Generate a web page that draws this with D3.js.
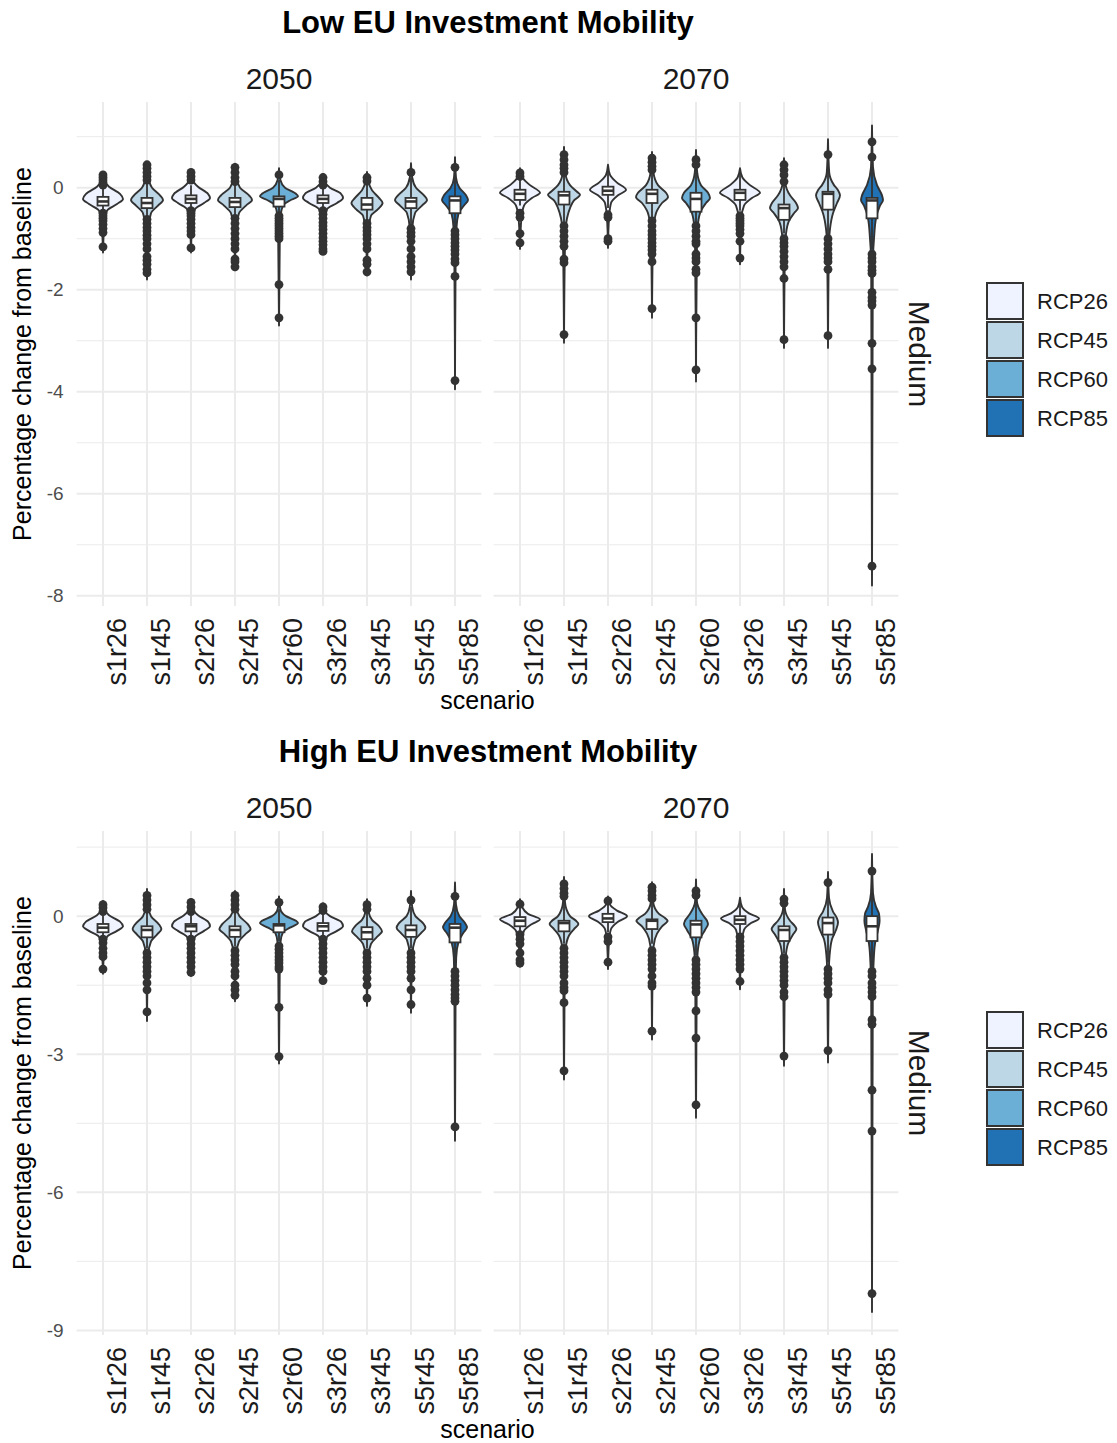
<!DOCTYPE html>
<html>
<head>
<meta charset="utf-8">
<script src="https://cdn.jsdelivr.net/npm/d3@7"></script>
<style>
body { margin: 0; background: #fff; }
text { font-family: "Liberation Sans", Arial, sans-serif; }
</style>
</head>
<body>
<div id="chart"></div>
<script>
var scenarios = ["s1r26", "s1r45", "s2r26", "s2r45", "s2r60", "s3r26", "s3r45", "s5r45", "s5r85"];
var rcpLevels = ["RCP26", "RCP45", "RCP60", "RCP85"];
var years = ["2050", "2070"];

var lowTicks = [0, -2, -4, -6, -8];
var lowMinor = [1, -1, -3, -5, -7];
var highTicks = [0, -3, -6, -9];
var highMinor = [1.5, -1.5, -4.5, -7.5];

// violin outline: [value, relative density]
var lowShape2050 = [
  [[0.3,0],[0.15,0.07],[0.02,0.3],[-0.12,0.85],[-0.22,1.0],[-0.32,0.7],[-0.45,0.2],[-0.7,0.07],[-1.27,0]],
  [[0.5,0],[0.2,0.07],[0,0.25],[-0.15,0.65],[-0.24,0.8],[-0.35,0.55],[-0.5,0.2],[-0.8,0.07],[-1.8,0]],
  [[0.32,0],[0.15,0.08],[0.02,0.35],[-0.12,0.85],[-0.2,0.95],[-0.3,0.65],[-0.42,0.2],[-0.7,0.06],[-1.27,0]],
  [[0.47,0],[0.2,0.07],[0,0.25],[-0.15,0.7],[-0.24,0.85],[-0.35,0.55],[-0.5,0.2],[-0.8,0.06],[-1.62,0]],
  [[0.38,0],[0.15,0.07],[0,0.3],[-0.12,0.85],[-0.17,0.95],[-0.25,0.55],[-0.35,0.2],[-0.55,0.08],[-1.0,0.04],[-2.7,0]],
  [[0.27,0],[0.12,0.08],[0,0.35],[-0.12,0.9],[-0.2,1.0],[-0.3,0.7],[-0.42,0.2],[-0.7,0.06],[-1.3,0]],
  [[0.31,0],[0.1,0.08],[-0.05,0.25],[-0.2,0.6],[-0.3,0.78],[-0.42,0.55],[-0.55,0.2],[-0.75,0.1],[-1.0,0.05],[-1.72,0]],
  [[0.48,0],[0.2,0.06],[0,0.25],[-0.15,0.65],[-0.24,0.8],[-0.35,0.55],[-0.5,0.2],[-0.8,0.06],[-1.8,0]],
  [[0.6,0],[0.2,0.05],[0,0.22],[-0.15,0.55],[-0.24,0.65],[-0.35,0.45],[-0.5,0.18],[-0.8,0.07],[-1.5,0.03],[-3.95,0]]
];
var lowShape2070 = [
  [[0.38,0],[0.2,0.12],[0.05,0.5],[-0.1,1.0],[-0.2,0.6],[-0.35,0.2],[-0.6,0.07],[-1.2,0]],
  [[0.8,0],[0.3,0.06],[0.05,0.3],[-0.08,0.65],[-0.14,0.8],[-0.25,0.5],[-0.4,0.3],[-0.6,0.15],[-0.9,0.06],[-3.04,0]],
  [[0.45,0],[0.25,0.1],[0.1,0.45],[-0.04,0.9],[-0.15,0.5],[-0.3,0.15],[-0.6,0.05],[-1.18,0]],
  [[0.7,0],[0.3,0.07],[0.05,0.3],[-0.1,0.7],[-0.18,0.8],[-0.3,0.5],[-0.45,0.25],[-0.7,0.1],[-1.0,0.05],[-2.55,0]],
  [[0.74,0],[0.3,0.06],[0.05,0.25],[-0.1,0.6],[-0.2,0.7],[-0.3,0.5],[-0.45,0.25],[-0.7,0.1],[-1.0,0.05],[-3.8,0]],
  [[0.38,0],[0.2,0.12],[0.05,0.5],[-0.1,1.0],[-0.2,0.6],[-0.35,0.2],[-0.6,0.07],[-1.5,0]],
  [[0.58,0],[0.1,0.06],[-0.15,0.3],[-0.3,0.6],[-0.4,0.7],[-0.5,0.5],[-0.65,0.25],[-0.9,0.1],[-1.2,0.05],[-3.14,0]],
  [[0.95,0],[0.3,0.06],[0.05,0.3],[-0.05,0.5],[-0.15,0.6],[-0.3,0.45],[-0.5,0.25],[-0.8,0.1],[-1.1,0.05],[-3.14,0]],
  [[1.22,0],[0.4,0.05],[0.05,0.25],[-0.15,0.5],[-0.24,0.55],[-0.35,0.4],[-0.6,0.2],[-1.0,0.1],[-1.5,0.04],[-7.8,0]]
];
var highShape2050 = [
  [[0.33,0],[0.15,0.08],[0.02,0.3],[-0.12,0.85],[-0.22,1.0],[-0.32,0.7],[-0.45,0.2],[-0.7,0.07],[-1.25,0]],
  [[0.59,0],[0.2,0.06],[0,0.2],[-0.18,0.6],[-0.28,0.72],[-0.4,0.5],[-0.55,0.2],[-0.85,0.06],[-2.28,0]],
  [[0.37,0],[0.15,0.08],[0.02,0.35],[-0.12,0.85],[-0.22,0.95],[-0.32,0.65],[-0.45,0.2],[-0.7,0.06],[-1.3,0]],
  [[0.55,0],[0.2,0.06],[0,0.22],[-0.18,0.65],[-0.28,0.78],[-0.4,0.5],[-0.55,0.2],[-0.85,0.06],[-1.85,0]],
  [[0.43,0],[0.15,0.07],[0,0.35],[-0.1,0.85],[-0.15,0.95],[-0.25,0.55],[-0.35,0.2],[-0.55,0.08],[-1.0,0.04],[-3.2,0]],
  [[0.28,0],[0.12,0.08],[0,0.35],[-0.12,0.9],[-0.22,1.0],[-0.32,0.7],[-0.45,0.2],[-0.7,0.06],[-1.45,0]],
  [[0.37,0],[0.1,0.07],[-0.08,0.25],[-0.22,0.6],[-0.33,0.75],[-0.45,0.5],[-0.6,0.2],[-0.85,0.08],[-1.95,0]],
  [[0.55,0],[0.2,0.06],[0,0.22],[-0.15,0.6],[-0.25,0.72],[-0.37,0.5],[-0.52,0.2],[-0.85,0.06],[-2.1,0]],
  [[0.73,0],[0.25,0.05],[0,0.22],[-0.15,0.5],[-0.24,0.6],[-0.36,0.42],[-0.55,0.18],[-0.9,0.06],[-1.6,0.03],[-4.88,0]]
];
var highShape2070 = [
  [[0.37,0],[0.2,0.1],[0.05,0.4],[-0.07,1.0],[-0.17,0.6],[-0.32,0.2],[-0.6,0.07],[-1.1,0]],
  [[0.85,0],[0.3,0.05],[0,0.3],[-0.1,0.6],[-0.17,0.72],[-0.28,0.5],[-0.42,0.25],[-0.7,0.08],[-1.0,0.04],[-3.55,0]],
  [[0.43,0],[0.25,0.1],[0.12,0.45],[0,0.95],[-0.12,0.5],[-0.28,0.15],[-0.55,0.05],[-1.15,0]],
  [[0.74,0],[0.3,0.06],[0.05,0.35],[-0.04,0.65],[-0.1,0.78],[-0.22,0.5],[-0.38,0.25],[-0.65,0.08],[-1.0,0.04],[-2.68,0]],
  [[0.8,0],[0.3,0.05],[0.05,0.3],[-0.1,0.55],[-0.17,0.6],[-0.3,0.45],[-0.5,0.2],[-0.8,0.08],[-1.2,0.04],[-4.38,0]],
  [[0.4,0],[0.2,0.1],[0.06,0.45],[-0.05,0.95],[-0.15,0.55],[-0.3,0.2],[-0.6,0.07],[-1.59,0]],
  [[0.59,0],[0.15,0.05],[-0.1,0.3],[-0.22,0.55],[-0.28,0.62],[-0.4,0.45],[-0.6,0.2],[-0.9,0.08],[-1.3,0.04],[-3.25,0]],
  [[0.96,0],[0.4,0.05],[0.1,0.25],[-0.05,0.45],[-0.14,0.5],[-0.3,0.4],[-0.5,0.2],[-0.85,0.08],[-1.2,0.04],[-3.18,0]],
  [[1.35,0],[0.5,0.05],[0.2,0.2],[0.05,0.35],[-0.1,0.38],[-0.3,0.3],[-0.6,0.15],[-1.0,0.08],[-1.6,0.04],[-8.6,0]]
];

// boxplot: [lower whisker, q1, median, q3, upper whisker]
var lowBox2050 = [
  [-0.45,-0.35,-0.27,-0.18,0.02], [-0.6,-0.4,-0.3,-0.2,0.1], [-0.42,-0.3,-0.22,-0.15,0.05],
  [-0.55,-0.38,-0.28,-0.2,0.08], [-0.52,-0.37,-0.22,-0.17,0.15], [-0.42,-0.3,-0.22,-0.15,0.02],
  [-0.65,-0.43,-0.33,-0.2,0.1], [-0.75,-0.4,-0.27,-0.2,0.2], [-0.8,-0.5,-0.25,-0.17,0.3]
];
var lowBox2070 = [
  [-0.35,-0.24,-0.12,-0.04,0.2], [-0.7,-0.33,-0.15,-0.08,0.25], [-0.4,-0.14,-0.06,0.02,0.4],
  [-0.6,-0.3,-0.12,-0.04,0.3], [-0.7,-0.47,-0.22,-0.1,0.35], [-0.45,-0.24,-0.1,-0.04,0.3],
  [-0.9,-0.63,-0.4,-0.33,0.05], [-0.95,-0.43,-0.12,-0.08,0.45], [-1.2,-0.6,-0.25,-0.2,0.5]
];
var highBox2050 = [
  [-0.45,-0.35,-0.25,-0.17,0.02], [-0.7,-0.46,-0.3,-0.22,0.08], [-0.45,-0.33,-0.22,-0.17,0.02],
  [-0.65,-0.45,-0.3,-0.22,0.08], [-0.55,-0.35,-0.2,-0.17,0.15], [-0.45,-0.32,-0.22,-0.15,0.05],
  [-0.7,-0.5,-0.35,-0.24,0.1], [-0.7,-0.45,-0.3,-0.2,0.2], [-1.0,-0.57,-0.25,-0.17,0.3]
];
var highBox2070 = [
  [-0.35,-0.22,-0.1,-0.02,0.2], [-0.6,-0.33,-0.15,-0.1,0.3], [-0.35,-0.13,-0.05,0.05,0.3],
  [-0.6,-0.28,-0.1,-0.07,0.3], [-0.85,-0.46,-0.18,-0.1,0.4], [-0.4,-0.17,-0.08,0,0.3],
  [-0.8,-0.54,-0.3,-0.22,0.2], [-1.0,-0.4,-0.15,-0.03,0.5], [-1.1,-0.54,-0.22,0,0.6]
];

var lowOut2050 = [
  [0.25,0.2,0.15,0.1,0.05,-0.5,-0.55,-0.6,-0.65,-0.72,-0.8,-0.88,-1.16],
  [0.45,0.38,0.3,0.22,0.15,-0.62,-0.7,-0.78,-0.85,-0.93,-1.0,-1.1,-1.2,-1.35,-1.42,-1.5,-1.6,-1.67],
  [0.3,0.22,0.15,-0.45,-0.5,-0.55,-0.62,-0.7,-0.78,-0.85,-0.92,-1.18],
  [0.4,0.3,0.2,0.12,-0.6,-0.7,-0.8,-0.9,-1.0,-1.1,-1.2,-1.4,-1.45,-1.55],
  [0.25,-0.55,-0.6,-0.65,-0.7,-0.75,-0.8,-0.85,-0.9,-0.95,-1.0,-1.9,-2.55],
  [0.2,0.12,0.05,-0.45,-0.52,-0.6,-0.68,-0.75,-0.82,-0.9,-0.98,-1.05,-1.12,-1.2,-1.25],
  [0.2,0.13,-0.7,-0.78,-0.85,-0.92,-1.0,-1.1,-1.2,-1.42,-1.5,-1.65],
  [0.3,-0.8,-0.88,-0.95,-1.05,-1.2,-1.35,-1.45,-1.55,-1.65],
  [0.4,-0.85,-0.92,-1.0,-1.08,-1.15,-1.22,-1.3,-1.4,-1.47,-1.74,-3.78]
];
var lowOut2070 = [
  [0.29,0.22,-0.5,-0.58,-0.9,-1.08],
  [0.65,0.55,0.45,0.38,0.3,-0.75,-0.85,-0.95,-1.05,-1.15,-1.4,-1.47,-2.88],
  [-0.53,-0.58,-1.0,-1.05],
  [0.58,0.5,0.42,0.35,-0.65,-0.75,-0.85,-0.92,-1.0,-1.08,-1.15,-1.22,-1.3,-1.45,-2.37],
  [0.55,0.45,-0.75,-0.85,-0.95,-1.05,-1.1,-1.3,-1.38,-1.45,-1.6,-1.67,-2.55,-3.57],
  [-0.55,-0.6,-0.65,-0.7,-0.75,-0.82,-0.9,-1.05,-1.38],
  [0.45,0.35,0.25,0.12,-1.0,-1.08,-1.15,-1.25,-1.35,-1.45,-1.55,-1.78,-2.98],
  [0.65,-1.0,-1.1,-1.2,-1.3,-1.38,-1.45,-1.6,-2.9],
  [0.9,0.6,-1.3,-1.38,-1.45,-1.55,-1.62,-1.68,-2.05,-2.15,-2.22,-2.3,-3.05,-3.55,-7.42]
];
var highOut2050 = [
  [0.25,0.18,0.1,-0.5,-0.58,-0.7,-0.8,-0.88,-1.15],
  [0.45,0.35,0.25,0.15,-0.8,-0.9,-1.0,-1.1,-1.2,-1.3,-1.45,-1.6,-2.08],
  [0.3,0.2,0.1,-0.5,-0.6,-0.7,-0.8,-0.9,-1.0,-1.1,-1.22],
  [0.45,0.35,0.25,0.15,-0.75,-0.85,-0.95,-1.05,-1.2,-1.3,-1.5,-1.6,-1.72],
  [0.3,-0.65,-0.72,-0.8,-0.88,-0.95,-1.02,-1.1,-1.15,-1.98,-3.05],
  [0.2,0.12,-0.5,-0.6,-0.7,-0.8,-0.9,-1.0,-1.1,-1.2,-1.4],
  [0.25,0.15,-0.8,-0.9,-1.0,-1.1,-1.2,-1.35,-1.5,-1.78],
  [0.35,-0.8,-0.9,-1.0,-1.1,-1.2,-1.35,-1.6,-1.92],
  [0.43,-1.2,-1.3,-1.4,-1.5,-1.6,-1.7,-1.78,-1.85,-4.58]
];
var highOut2070 = [
  [0.26,-0.4,-0.5,-0.6,-0.8,-0.95,-1.02],
  [0.7,0.6,0.5,0.43,-0.7,-0.8,-0.9,-1.0,-1.1,-1.2,-1.3,-1.45,-1.55,-1.62,-1.88,-3.36],
  [0.33,-0.45,-0.55,-1.0],
  [0.63,0.55,0.45,0.38,-0.75,-0.85,-0.95,-1.05,-1.15,-1.3,-1.45,-1.52,-2.5],
  [0.55,0.45,-0.95,-1.05,-1.15,-1.25,-1.35,-1.45,-1.55,-1.65,-2.06,-2.65,-4.1],
  [-0.45,-0.55,-0.65,-0.75,-0.85,-0.95,-1.05,-1.15,-1.42],
  [0.37,0.28,-0.9,-1.0,-1.1,-1.2,-1.3,-1.4,-1.5,-1.65,-1.75,-3.04],
  [0.73,-1.15,-1.25,-1.35,-1.45,-1.6,-1.7,-2.92],
  [0.98,-1.2,-1.3,-1.45,-1.55,-1.65,-1.75,-2.25,-2.35,-3.78,-4.67,-8.2]
];

var fill = d3.scaleOrdinal().domain(rcpLevels).range(["#EFF3FF", "#BDD7E7", "#6BAED6", "#2171B5"]);
var halfWidth = d3.scaleLinear().domain([0, 1]).range([0, 20]);
var ink = "#333333";

var svg = d3.select("#chart").append("svg")
  .attr("width", 1117).attr("height", 1443)
  .style("background", "#fff");

function rcpOf(s) { return "RCP" + s.slice(3); }

function drawPlot(top, title, yDomain, ticks, minor, shapes, boxes, outs) {
  var g = svg.append("g").attr("transform", "translate(0," + top + ")");
  var y = d3.scaleLinear().domain(yDomain).range([606, 102]);
  var panelX = [[76.6, 481.4], [493.6, 898.4]];

  g.append("text")
    .attr("x", 488).attr("y", 33)
    .attr("text-anchor", "middle")
    .style("font-weight", "bold").style("font-size", "31px")
    .text(title);

  panelX.forEach(function(px, p) {
    var x = d3.scalePoint().domain(scenarios).range(px).padding(0.6);
    var pg = g.append("g");

    // grid
    pg.selectAll(".minor").data(minor).enter().append("line")
      .attr("x1", px[0]).attr("x2", px[1])
      .attr("y1", function(d) { return y(d); }).attr("y2", function(d) { return y(d); })
      .attr("stroke", "#ebebeb").attr("stroke-width", 1);
    pg.selectAll(".major").data(ticks).enter().append("line")
      .attr("x1", px[0]).attr("x2", px[1])
      .attr("y1", function(d) { return y(d); }).attr("y2", function(d) { return y(d); })
      .attr("stroke", "#ebebeb").attr("stroke-width", 2);
    pg.selectAll(".vgrid").data(scenarios).enter().append("line")
      .attr("x1", function(d) { return x(d); }).attr("x2", function(d) { return x(d); })
      .attr("y1", 102).attr("y2", 606)
      .attr("stroke", "#ebebeb").attr("stroke-width", 2);

    // strip
    g.append("text")
      .attr("x", (px[0] + px[1]) / 2).attr("y", 89)
      .attr("text-anchor", "middle")
      .style("font-size", "30px").attr("fill", "#1a1a1a")
      .text(years[p]);

    // violins, boxes, outliers
    scenarios.forEach(function(s, i) {
      var cx = x(s);
      var area = d3.area().curve(d3.curveMonotoneY)
        .y(function(d) { return y(d[0]); })
        .x0(function(d) { return cx - halfWidth(d[1]); })
        .x1(function(d) { return cx + halfWidth(d[1]); });
      pg.append("path")
        .attr("d", area(shapes[p][i]))
        .attr("fill", fill(rcpOf(s)))
        .attr("stroke", ink).attr("stroke-width", 1.9)
        .attr("stroke-linejoin", "round");

      var b = boxes[p][i];
      pg.append("line")
        .attr("x1", cx).attr("x2", cx)
        .attr("y1", y(b[0])).attr("y2", y(b[4]))
        .attr("stroke", ink).attr("stroke-width", 1.8);
      pg.selectAll(null).data(outs[p][i]).enter().append("circle")
        .attr("cx", cx).attr("cy", function(d) { return y(d); })
        .attr("r", 4.4).attr("fill", ink);
      pg.append("rect")
        .attr("x", cx - 5.5).attr("width", 11)
        .attr("y", y(b[3])).attr("height", y(b[1]) - y(b[3]))
        .attr("fill", "#fff").attr("stroke", ink).attr("stroke-width", 1.8);
      pg.append("line")
        .attr("x1", cx - 5.5).attr("x2", cx + 5.5)
        .attr("y1", y(b[2])).attr("y2", y(b[2]))
        .attr("stroke", ink).attr("stroke-width", 2.6);
    });

    // x axis labels
    var xa = g.append("g").attr("transform", "translate(0,606)")
      .call(d3.axisBottom(x).tickSize(0).tickPadding(0));
    xa.select(".domain").remove();
    xa.selectAll("text")
      .attr("transform", "rotate(-90)")
      .attr("text-anchor", "end")
      .attr("x", -12).attr("y", 0).attr("dy", "22px")
      .style("font-size", "27px").style("font-family", "'Liberation Sans', Arial, sans-serif")
      .attr("fill", "#1a1a1a");

    if (p === 0) {
      var ya = g.append("g").attr("transform", "translate(" + px[0] + ",0)")
        .call(d3.axisLeft(y).tickValues(ticks).tickSize(0).tickPadding(13)
          .tickFormat(function(d) { return String(d); }));
      ya.select(".domain").remove();
      ya.selectAll("text")
        .style("font-size", "19px").style("font-family", "'Liberation Sans', Arial, sans-serif")
        .attr("fill", "#4d4d4d");
    }
  });

  g.append("text")
    .attr("x", 487.5).attr("y", 709)
    .attr("text-anchor", "middle")
    .style("font-size", "25px")
    .text("scenario");

  g.append("text")
    .attr("transform", "translate(31,354) rotate(-90)")
    .attr("text-anchor", "middle")
    .style("font-size", "25px")
    .text("Percentage change from baseline");

  g.append("text")
    .attr("transform", "translate(909,354) rotate(90)")
    .attr("text-anchor", "middle")
    .style("font-size", "30px").attr("fill", "#1a1a1a")
    .text("Medium");

  // legend
  var lg = g.append("g").attr("transform", "translate(987,283)");
  rcpLevels.forEach(function(r, i) {
    lg.append("rect")
      .attr("x", 0).attr("y", i * 39)
      .attr("width", 36).attr("height", 36)
      .attr("fill", fill(r)).attr("stroke", ink).attr("stroke-width", 2);
    lg.append("text")
      .attr("x", 50).attr("y", i * 39 + 18).attr("dy", "0.36em")
      .style("font-size", "22px").attr("fill", "#1a1a1a")
      .text(r);
  });
}

drawPlot(0, "Low EU Investment Mobility", [-8.2, 1.68], lowTicks, lowMinor,
  [lowShape2050, lowShape2070], [lowBox2050, lowBox2070], [lowOut2050, lowOut2070]);
drawPlot(729, "High EU Investment Mobility", [-9.1, 1.85], highTicks, highMinor,
  [highShape2050, highShape2070], [highBox2050, highBox2070], [highOut2050, highOut2070]);
</script>
</body>
</html>
